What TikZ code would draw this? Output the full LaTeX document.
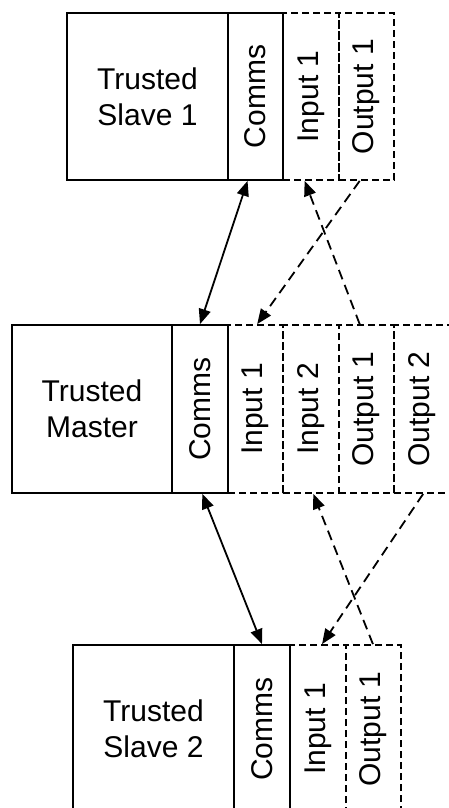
\documentclass[tikz,border=0pt]{standalone}
\usepackage{fontspec}
\setmainfont{Liberation Sans}
\usetikzlibrary{arrows.meta,calc}
\tikzset{
  blk/.style={draw, line width=1.8pt, rectangle, inner sep=0pt, align=center,
    font=\fontsize{30}{36}\selectfont},
  solidbox/.style={blk},
  dashbox/.style={blk, dash pattern=on 7pt off 4pt},
  link/.style={line width=1.8pt, {Triangle[length=15pt,width=12pt]}-{Triangle[length=15pt,width=12pt]}},
  dlink/.style={line width=1.8pt, dash pattern=on 10pt off 6pt, -{Triangle[length=15pt,width=12pt]}}
}
\begin{document}
\begin{tikzpicture}[x=1pt,y=-1pt]
\useasboundingbox (0,0) rectangle (449,808);
% Slave 1
\node[dashbox, minimum width=56pt, minimum height=167pt] (s1i1) at (311,96.5) {\rotatebox{90}{Input 1}};
\node[dashbox, minimum width=55pt, minimum height=167pt] (s1o1) at (366.5,96.5) {\rotatebox{90}{Output 1}};
\node[solidbox, minimum width=161pt, minimum height=167pt] (s1) at (147.5,96.5) {Trusted\\Slave 1};
\node[solidbox, minimum width=55pt, minimum height=167pt] (s1c) at (255.5,96.5) {\rotatebox{90}{Comms}};
% Master
\node[dashbox, minimum width=55pt, minimum height=168pt] (mi1) at (255.5,409) {\rotatebox{90}{Input 1}};
\node[dashbox, minimum width=56pt, minimum height=168pt] (mi2) at (311,409) {\rotatebox{90}{Input 2}};
\node[dashbox, minimum width=55pt, minimum height=168pt] (mo1) at (366.5,409) {\rotatebox{90}{Output 1}};
\node[dashbox, minimum width=56pt, minimum height=168pt] (mo2) at (422,409) {\rotatebox{90}{Output 2}};
\node[solidbox, minimum width=160pt, minimum height=168pt] (m) at (92,409) {Trusted\\Master};
\node[solidbox, minimum width=56pt, minimum height=168pt] (mc) at (200,409) {\rotatebox{90}{Comms}};
% Slave 2
\node[dashbox, minimum width=56pt, minimum height=168pt] (s2i1) at (318,729) {\rotatebox{90}{Input 1}};
\node[dashbox, minimum width=55pt, minimum height=168pt] (s2o1) at (373.5,729) {\rotatebox{90}{Output 1}};
\node[solidbox, minimum width=161pt, minimum height=168pt] (s2) at (153.5,729) {Trusted\\Slave 2};
\node[solidbox, minimum width=56pt, minimum height=168pt] (s2c) at (262,729) {\rotatebox{90}{Comms}};
% connectors
\draw[link] ($(s1c.south west)!0.36!(s1c.south east)$) -- (mc.north);
\draw[link] ($(mc.south west)!0.54!(mc.south east)$) -- (s2c.north);
\draw[dlink] ($(mo1.north west)!0.38!(mo1.north east)$) -- ($(s1i1.south west)!0.39!(s1i1.south east)$);
\draw[dlink] ($(s1o1.south west)!0.38!(s1o1.south east)$) -- ($(mi1.north west)!0.53!(mi1.north east)$);
\draw[dlink] ($(s2o1.north west)!0.49!(s2o1.north east)$) -- ($(mi2.south west)!0.54!(mi2.south east)$);
\draw[dlink] ($(mo2.south west)!0.52!(mo2.south east)$) -- ($(s2i1.north west)!0.57!(s2i1.north east)$);
\end{tikzpicture}
\end{document}
